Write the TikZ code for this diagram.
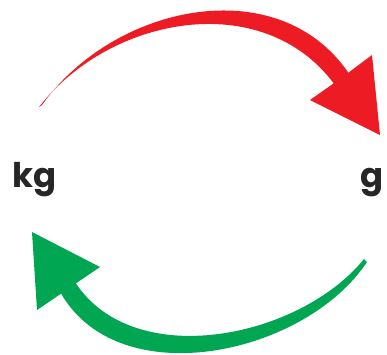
\documentclass[tikz,border=0pt]{standalone}
\usepackage{fontspec}
\setmainfont{Poppins}
\usetikzlibrary{positioning}
\definecolor{hot}{RGB}{237,28,36}
\definecolor{leaf}{RGB}{0,166,81}

\begin{document}
\begin{tikzpicture}[x=1pt,y=-1pt,lbl/.style={inner sep=0pt,font=\fontsize{34}{38}\selectfont\bfseries,text=black!85}]
\useasboundingbox (0,0) rectangle (387,354);
\node[lbl,anchor=base west] (kg) at (12,187) {kg};
\node[lbl,anchor=base east] (g) at (384,187) {g};
% red: kg -> g
\coordinate (rs) at (42,105);\coordinate (rt) at (380,135);
\fill[hot] (rs) .. controls (114,4) and (278,-30) .. (348.3,72.7) -- (372,55) -- (rt) -- (310,100) -- (333.7,83.3) .. controls (262,-12) and (110,16) .. (39,107) -- cycle;
% green: g -> kg
\coordinate (gs) at (367,262);\coordinate (gt) at (32,232);
\fill[leaf] (gs) .. controls (305,355) and (120,395) .. (61.1,293.6) -- (37,310) -- (gt) -- (100,267) -- (75.9,283.4) .. controls (135,372) and (300,338) .. (364,259) -- cycle;
\end{tikzpicture}
\end{document}
